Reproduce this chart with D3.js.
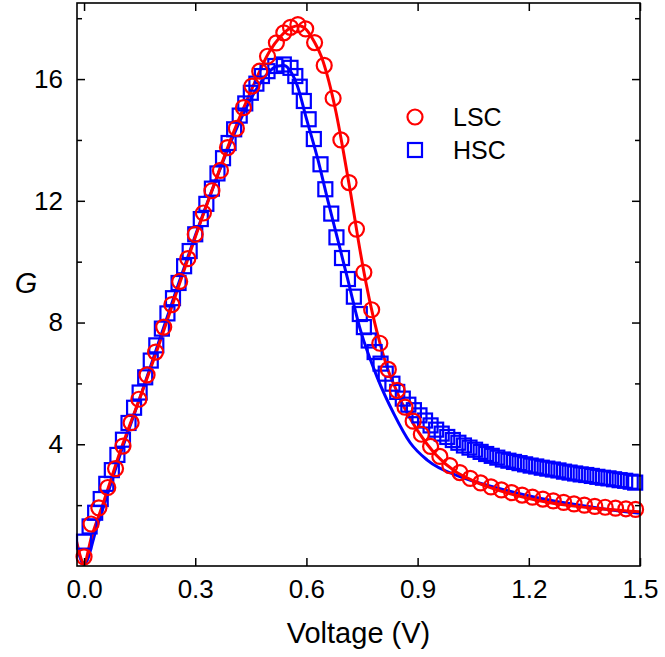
<!DOCTYPE html>
<html>
<head>
<meta charset="utf-8">
<script src="https://cdn.jsdelivr.net/npm/d3@7"></script>
<style>
  html, body { margin: 0; padding: 0; background: #fff; }
  text { font-family: "Liberation Sans", Arial, Helvetica, sans-serif; }
</style>
</head>
<body>
<svg id="chart" width="665" height="657"></svg>
<script>
// ---- data ----
const seriesNames = ["LSC", "HSC"];
const xTicks = [0.0, 0.3, 0.6, 0.9, 1.2, 1.5];
const yTicks = [4, 8, 12, 16];
const yMinorTicks = [2, 6, 10, 14, 18];

// LSC measured points (circles)
const lscV = [0,0.019,0.04,0.064,0.085,0.105,0.127,0.148,0.170,0.193,0.215,0.237,0.258,0.28,0.3,0.322,0.345,0.368,0.387,0.411,0.43,0.453,0.474,0.495,0.519,0.539,0.557,0.577,0.598,0.622,0.648,0.672,0.693,0.715,0.735,0.755,0.776,0.798,0.821,0.845,0.866,0.888,0.91,0.935,0.96,0.987,1.014,1.042,1.07,1.098,1.126,1.154,1.182,1.21,1.238,1.266,1.294,1.322,1.35,1.378,1.406,1.434,1.462,1.488];
const lscG = [0.3,1.38,1.91,2.58,3.2,3.94,4.71,5.48,6.28,7.03,7.85,8.59,9.35,10.1,10.9,11.6,12.33,13.0,13.75,14.38,15.06,15.77,16.26,16.75,17.19,17.52,17.7,17.79,17.65,17.2,16.45,15.37,14.0,12.6,11.07,9.65,8.42,7.32,6.46,5.77,5.22,4.76,4.33,3.93,3.6,3.3,3.07,2.88,2.73,2.6,2.5,2.41,2.33,2.26,2.2,2.14,2.09,2.04,2.0,1.96,1.93,1.9,1.88,1.86];

// HSC measured points (squares)
const hscV = [0.000,0.015,0.030,0.045,0.060,0.075,0.090,0.105,0.120,0.135,0.150,0.165,0.180,0.195,0.210,0.225,0.240,0.255,0.270,0.285,0.300,0.315,0.330,0.345,0.360,0.375,0.390,0.405,0.420,0.435,0.450,0.465,0.480,0.495,0.516,0.539,0.557,0.570,0.582,0.593,0.606,0.620,0.638,0.651,0.667,0.681,0.696,0.712,0.728,0.744,0.755,0.768,0.784,0.800,0.814,0.832,0.845,0.860,0.875,0.890,0.905,0.920,0.935,0.950,0.965,0.980,0.995,1.010,1.025,1.040,1.055,1.070,1.085,1.100,1.115,1.130,1.145,1.160,1.175,1.190,1.205,1.220,1.235,1.250,1.265,1.280,1.295,1.310,1.325,1.340,1.355,1.370,1.385,1.400,1.415,1.430,1.445,1.460,1.475,1.487];
const hscG = [0.8,1.3,1.75,2.2,2.7,3.15,3.65,4.15,4.7,5.2,5.7,6.2,6.75,7.25,7.8,8.3,8.8,9.3,9.85,10.35,10.9,11.4,11.9,12.4,12.9,13.4,13.9,14.35,14.8,15.2,15.55,15.85,16.1,16.26,16.43,16.48,16.37,16.1,15.75,15.28,14.68,14.03,13.2,12.38,11.58,10.8,10.12,9.43,8.85,8.28,7.85,7.41,7.03,6.65,6.32,5.99,5.72,5.5,5.3,5.12,4.95,4.78,4.62,4.48,4.35,4.24,4.14,4.05,3.96,3.89,3.82,3.75,3.68,3.62,3.56,3.5,3.46,3.42,3.38,3.34,3.3,3.27,3.23,3.2,3.17,3.14,3.1,3.07,3.04,3.01,2.99,2.96,2.93,2.9,2.88,2.85,2.82,2.8,2.77,2.74];

// Fit curves
const lscFitV = [-0.02,0,0.02,0.05,0.1,0.15,0.2,0.25,0.3,0.35,0.4,0.45,0.5,0.53,0.56,0.58,0.6,0.62,0.64,0.66,0.68,0.7,0.72,0.74,0.76,0.78,0.8,0.82,0.84,0.86,0.88,0.9,0.95,1.0,1.05,1.1,1.2,1.3,1.4,1.5];
const lscFitG = [0.8,0.1,0.95,2.0,3.85,5.5,7.2,9.0,10.8,12.5,14.15,15.6,16.9,17.4,17.7,17.75,17.62,17.25,16.75,15.95,14.9,13.6,12.2,10.7,9.35,8.2,7.25,6.45,5.85,5.3,4.85,4.45,3.65,3.12,2.8,2.56,2.22,2.0,1.87,1.78];
const hscFitV = [-0.02,0,0.035,0.05,0.1,0.15,0.2,0.25,0.3,0.35,0.4,0.45,0.48,0.5,0.52,0.54,0.56,0.575,0.6,0.63,0.656,0.683,0.71,0.746,0.791,0.836,0.88,0.926,1.016,1.105,1.214,1.305,1.395,1.5];
const hscFitG = [0.7,0.05,1.3,1.85,3.75,5.5,7.3,9.1,10.85,12.5,14.05,15.35,15.95,16.25,16.42,16.45,16.2,15.8,14.7,13.4,12.1,10.8,9.49,7.74,6.2,5.0,4.05,3.48,2.93,2.6,2.27,2.06,1.89,1.73];

// ---- drawing ----
const svg = d3.select("#chart");
const L = 77, R = 640, T = 3, B = 566;
const x = d3.scaleLinear().domain([-0.019, 1.5]).range([L, R]);
const y = d3.scaleLinear().domain([0, 18.5]).range([B, T]);
const red = "#ff0000", blue = "#0000ff";

svg.append("defs").append("clipPath").attr("id", "clip")
  .append("rect").attr("x", L).attr("y", T).attr("width", R - L).attr("height", B - T);

const plot = svg.append("g").attr("clip-path", "url(#clip)");
const zip = (a, b) => a.map((v, i) => [v, b[i]]);
const line = d3.line().x(d => x(d[0])).y(d => y(d[1])).curve(d3.curveMonotoneX);

// HSC squares
const sq = 14;
svg.append("g").selectAll("rect").data(zip(hscV, hscG)).join("rect")
  .attr("x", d => x(d[0]) - sq / 2).attr("y", d => y(d[1]) - sq / 2)
  .attr("width", sq).attr("height", sq)
  .attr("fill", "none").attr("stroke", blue).attr("stroke-width", 2.2);

// HSC fit
plot.append("path").datum(zip(hscFitV, hscFitG)).attr("d", line)
  .attr("fill", "none").attr("stroke", blue).attr("stroke-width", 3);

// LSC circles
svg.append("g").selectAll("circle").data(zip(lscV, lscG)).join("circle")
  .attr("cx", d => x(d[0])).attr("cy", d => y(d[1])).attr("r", 7.5)
  .attr("fill", "none").attr("stroke", red).attr("stroke-width", 2.2);

// LSC fit
plot.append("path").datum(zip(lscFitV, lscFitG)).attr("d", line)
  .attr("fill", "none").attr("stroke", red).attr("stroke-width", 3);

// axes (ticks inside, mirrored)
const axStroke = (g) => { g.select(".domain").remove(); g.selectAll("line").attr("stroke", "#000").attr("stroke-width", 1.5); };
const tickFont = 26;

svg.append("g").attr("transform", `translate(0,${B})`)
  .call(d3.axisBottom(x).tickValues(xTicks).tickSizeInner(-8).tickSizeOuter(0).tickFormat(d3.format(".1f")).tickPadding(14))
  .call(axStroke)
  .call(g => g.selectAll("text").attr("font-size", tickFont).attr("fill", "#000").attr("font-family", "Liberation Sans, Arial, sans-serif"));
svg.append("g").attr("transform", `translate(0,${T})`)
  .call(d3.axisTop(x).tickValues(xTicks).tickSizeInner(-8).tickSizeOuter(0).tickFormat(""))
  .call(axStroke);

svg.append("g").attr("transform", `translate(${L},0)`)
  .call(d3.axisLeft(y).tickValues(yTicks).tickSizeInner(-8).tickSizeOuter(0).tickFormat(d3.format("d")).tickPadding(14))
  .call(axStroke)
  .call(g => g.selectAll("text").attr("font-size", tickFont).attr("fill", "#000").attr("font-family", "Liberation Sans, Arial, sans-serif"));
svg.append("g").attr("transform", `translate(${L},0)`)
  .call(d3.axisLeft(y).tickValues(yMinorTicks).tickSizeInner(-5).tickSizeOuter(0).tickFormat(""))
  .call(axStroke);
svg.append("g").attr("transform", `translate(${R},0)`)
  .call(d3.axisRight(y).tickValues(yTicks).tickSizeInner(-8).tickSizeOuter(0).tickFormat(""))
  .call(axStroke);
svg.append("g").attr("transform", `translate(${R},0)`)
  .call(d3.axisRight(y).tickValues(yMinorTicks).tickSizeInner(-5).tickSizeOuter(0).tickFormat(""))
  .call(axStroke);

// frame
svg.append("rect").attr("x", L).attr("y", T).attr("width", R - L).attr("height", B - T)
  .attr("fill", "none").attr("stroke", "#000").attr("stroke-width", 1.6);

// axis titles
svg.append("text").attr("x", (L + R) / 2).attr("y", 643).attr("text-anchor", "middle")
  .attr("font-size", 29).text("Voltage (V)");
svg.append("text").attr("x", 26).attr("y", 293).attr("text-anchor", "middle")
  .attr("font-size", 29).attr("font-style", "italic").text("G");

// legend
const leg = svg.append("g");
leg.append("circle").attr("cx", 415).attr("cy", 117).attr("r", 7.5)
  .attr("fill", "none").attr("stroke", red).attr("stroke-width", 2.2);
leg.append("rect").attr("x", 415 - 7).attr("y", 150 - 7).attr("width", 14).attr("height", 14)
  .attr("fill", "none").attr("stroke", blue).attr("stroke-width", 2.2);
leg.append("text").attr("x", 453).attr("y", 126).attr("font-size", 25).text(seriesNames[0]);
leg.append("text").attr("x", 453).attr("y", 159).attr("font-size", 25).text(seriesNames[1]);
</script>
</body>
</html>
